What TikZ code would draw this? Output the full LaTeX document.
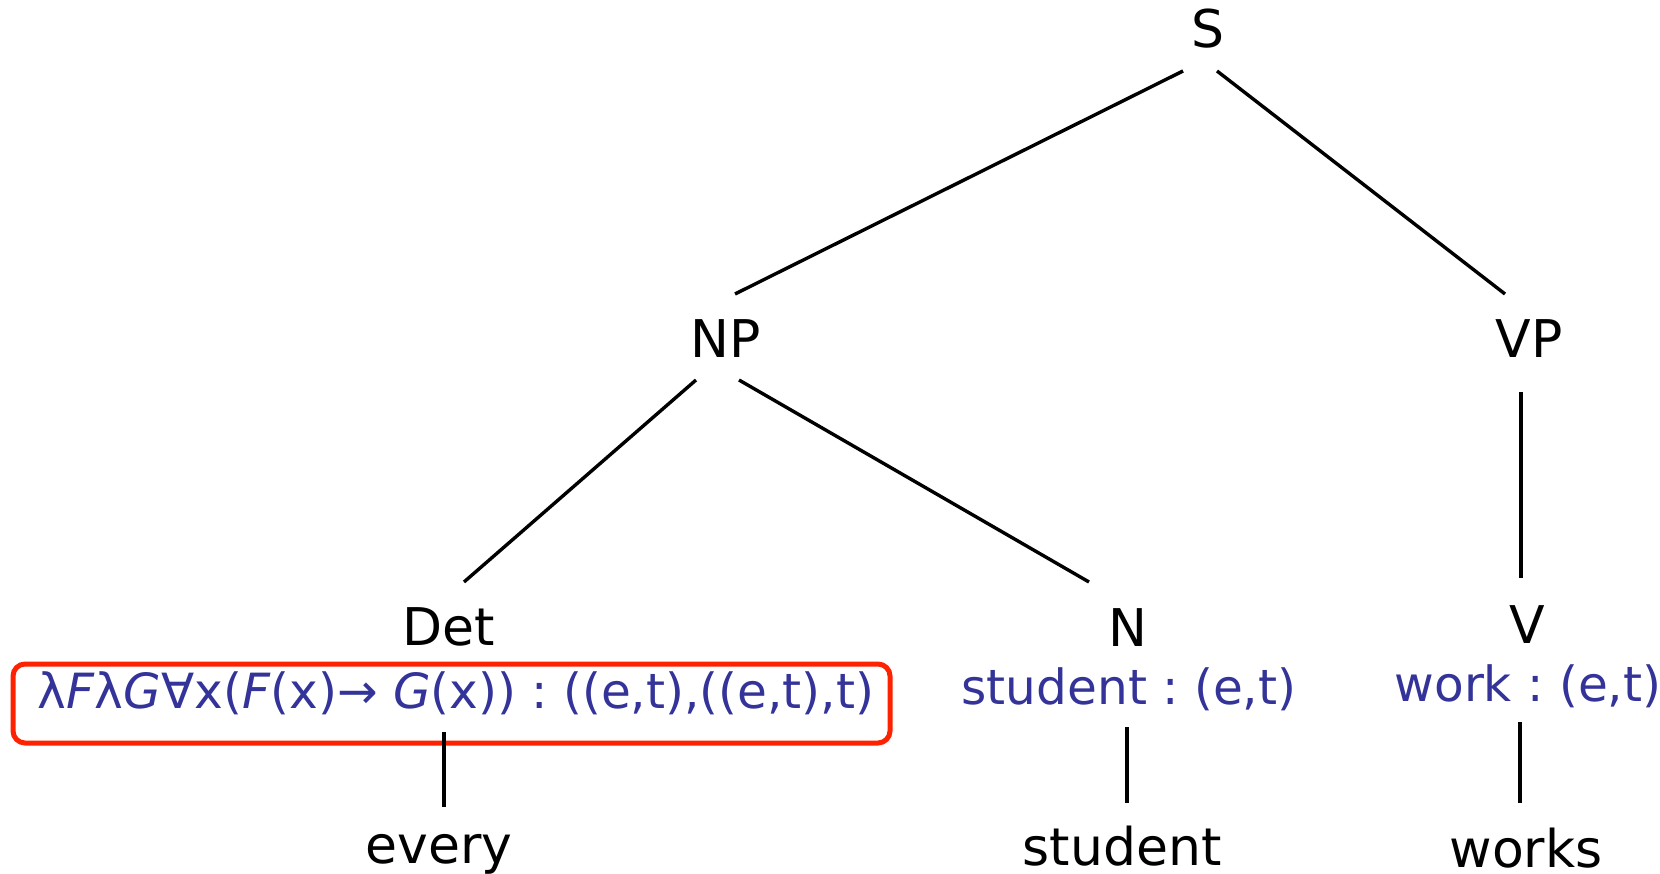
\documentclass[tikz,border=0pt]{standalone}
\usepackage{fontspec}
\setmainfont{DejaVu Sans}
\frenchspacing
\definecolor{semblue}{HTML}{333399}
\definecolor{boxred}{HTML}{FF2200}
\begin{document}
\begin{tikzpicture}[x=1pt,y=-1pt,
  cat/.style={anchor=base,inner sep=0pt,font=\fontsize{52}{60}\selectfont},
  sem/.style={anchor=base,inner sep=0pt,text=semblue,font=\fontsize{48.5}{56}\selectfont},
  edge/.style={line width=3.4pt},
  redbox/.style={draw=boxred,line width=5pt,rounded corners=12pt}]
\useasboundingbox (0,0) rectangle (1660,874);
% categories
\node[cat] (S) at (1208,48) {S};
\node[cat] (NP) at (726,358) {NP};
\node[cat] (VP) at (1529,358) {VP};
\node[cat] (Det) at (449,645) {Det};
\node[cat] (N) at (1128,646) {N};
\node[cat] (V) at (1527,643) {V};
% semantics
\node[sem] (detsem) at (456,708) {λ\textit{F}λ\textit{G}∀x(\textit{F}(x)→ \textit{G}(x)) : ((e,t),((e,t),t)};
\node[sem] (nsem) at (1129,704) {student : (e,t)};
\node[sem] (vsem) at (1528,701) {work : (e,t)};
% words
\node[cat] (every) at (439,863) {every};
\node[cat] (student) at (1122,865) {student};
\node[cat] (works) at (1526,867) {works};
% red box
\coordinate (boxA) at (13,664);
\coordinate (boxB) at (890,743);
\draw[redbox] (boxA) rectangle (boxB);
% edge ends
\coordinate (S-l) at (1183,71);
\coordinate (NP-t) at (735,294);
\coordinate (S-r) at (1217,71);
\coordinate (VP-t) at (1505,294);
\coordinate (NP-l) at (696,380);
\coordinate (Det-t) at (464,582);
\coordinate (NP-r) at (739,380);
\coordinate (N-t) at (1089,582);
\coordinate (VP-b) at (1521,392);
\coordinate (V-t) at (1521,578);
\coordinate (detsem-b) at (444,732);
\coordinate (every-t) at (444,807);
\coordinate (nsem-b) at (1127,727);
\coordinate (student-t) at (1127,803);
\coordinate (vsem-b) at (1520,722);
\coordinate (works-t) at (1520,803);
% edges
\draw[edge] (S-l) -- (NP-t);
\draw[edge] (S-r) -- (VP-t);
\draw[edge] (NP-l) -- (Det-t);
\draw[edge] (NP-r) -- (N-t);
\draw[edge] (VP-b) -- (V-t);
\draw[edge] (detsem-b) -- (every-t);
\draw[edge] (nsem-b) -- (student-t);
\draw[edge] (vsem-b) -- (works-t);
\end{tikzpicture}
\end{document}
